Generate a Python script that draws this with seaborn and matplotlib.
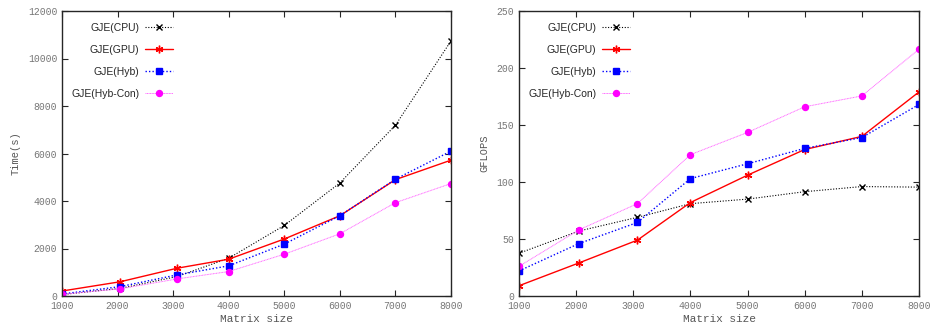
import pandas as pd
import seaborn as sns
import numpy as np
from matplotlib import pyplot as plt

sizes = [1000, 2048, 3072, 4000, 5000, 6000, 7000, 8000]
series = ["GJE(CPU)", "GJE(GPU)", "GJE(Hyb)", "GJE(Hyb-Con)"]

time_cpu = [60, 320, 820, 1590, 2970, 4760, 7190, 10740]
time_gpu = [210, 600, 1170, 1550, 2400, 3380, 4900, 5720]
time_hyb = [85, 395, 890, 1270, 2185, 3380, 4920, 6100]
time_con = [70, 300, 720, 1030, 1760, 2620, 3930, 4735]

gf_cpu = [37.5, 57, 69, 81, 85, 91.5, 96, 95.5]
gf_gpu = [9, 29, 49, 82, 106, 128.5, 140, 179]
gf_hyb = [22, 46, 64.5, 103, 116, 129.5, 139, 168]
gf_con = [26, 58, 81, 124, 143.5, 166, 175.5, 216.5]

sns.set_style("ticks")
plt.rcParams["font.family"] = ["Liberation Sans", "DejaVu Sans"]
mono = ["Liberation Mono", "DejaVu Sans Mono"]

# style per series: line colour, marker colour, marker, dashes, lw, ms
styles = {
    "GJE(CPU)": ("black", "black", "x", (1, 1.5), 0.8, 4.5),
    "GJE(GPU)": ("red", "red", (6, 2, 0), "", 1.0, 5.5),
    "GJE(Hyb)": ("blue", "blue", "s", (1, 1.5), 1.0, 4.8),
    "GJE(Hyb-Con)": ("#ff66ff", "magenta", "o", (1, 0.6), 0.7, 4.3),
}

fig = plt.figure(figsize=(9.31, 3.27), dpi=100)
ax1 = fig.add_axes([62 / 931, 31 / 327, 389 / 931, 285 / 327])
ax2 = fig.add_axes([519 / 931, 31 / 327, 400 / 931, 285 / 327])

for ax, values, ylab, ymax, ystep in [
    (ax1, [time_cpu, time_gpu, time_hyb, time_con], "Time(s)", 12000, 2000),
    (ax2, [gf_cpu, gf_gpu, gf_hyb, gf_con], "GFLOPS", 250, 50),
]:
    for name, vals in zip(series, values):
        lc, mc, mk, ds, lw, ms = styles[name]
        sns.lineplot(
            x=sizes, y=vals, ax=ax, color=lc, marker=mk,
            markersize=ms, markerfacecolor=mc, markeredgecolor=mc,
            markeredgewidth=1.0, linewidth=lw, label=name,
        )
        line = ax.get_lines()[-1]
        if ds:
            line.set_dashes(ds)
    ax.set_xlim(1000, 8000)
    ax.set_ylim(0, ymax)
    ax.set_xticks(np.arange(1000, 8001, 1000))
    ax.set_yticks(np.arange(0, ymax + 1, ystep))
    ax.tick_params(direction="in", top=True, right=True, length=4,
                   labelsize=7, labelcolor="#777777", width=0.8)
    for lab in ax.get_xticklabels() + ax.get_yticklabels():
        lab.set_family(mono)
    ax.set_xlabel("Matrix size", fontsize=8, color="#555555",
                  family=mono, labelpad=2)
    ax.set_ylabel(ylab, fontsize=7.5, color="#555555",
                  family=mono, labelpad=5)
    for sp in ax.spines.values():
        sp.set_linewidth(1.0)
        sp.set_visible(True)
    leg = ax.legend(loc="upper left", bbox_to_anchor=(0.005, 0.985),
                    frameon=False, markerfirst=False, fontsize=7.5,
                    labelspacing=1.15, handlelength=2.7, handletextpad=0.5,
                    borderaxespad=0.3)
    leg._legend_box.align = "right"
    for t in leg.get_texts():
        t.set_ha("right")

fig.savefig("out.png", dpi=100)
